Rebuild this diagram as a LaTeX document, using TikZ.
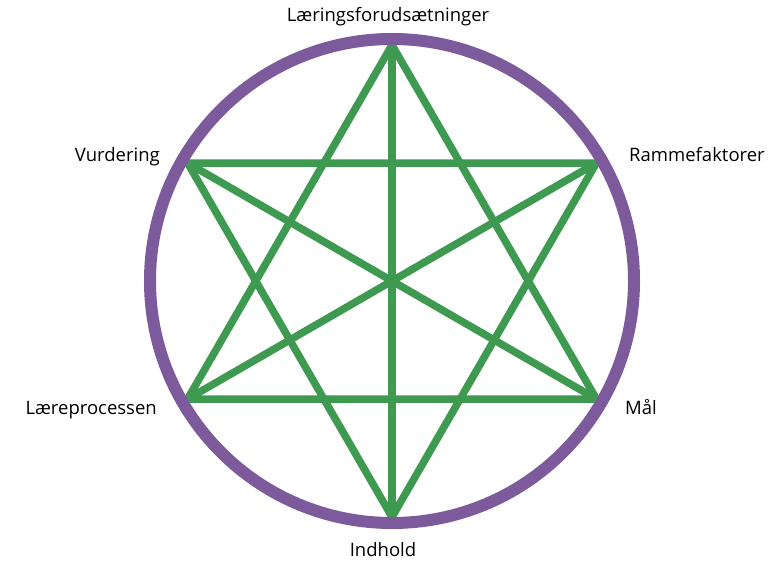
\documentclass[tikz,border=0pt]{standalone}
\usepackage{fontspec}
\setmainfont{Open Sans}
\usetikzlibrary{positioning,calc}

\definecolor{ringpurple}{HTML}{7D5A9B}
\definecolor{stargreen}{HTML}{3E9A50}

\begin{document}
\begin{tikzpicture}[
  x=1pt, y=1pt,
  ring/.style={draw=ringpurple, line width=12pt},
  starline/.style={draw=stargreen, line width=7.5pt, line join=miter},
  label/.style={font=\fontsize{18.5}{22}\selectfont, text=black, inner sep=0pt}
]
\useasboundingbox (0,0) rectangle (780,-562);

\coordinate (centre) at (392,-281);

% corners of the star
\coordinate (forud) at ($(centre)+(90:236)$);
\coordinate (ramme) at ($(centre)+(30:236)$);
\coordinate (maal)  at ($(centre)+(-30:236)$);
\coordinate (indh)  at ($(centre)+(-90:236)$);
\coordinate (laere) at ($(centre)+(-150:236)$);
\coordinate (vurd)  at ($(centre)+(150:236)$);

\draw[starline] (forud) -- (laere) -- (maal) -- cycle;
\draw[starline] (indh) -- (vurd) -- (ramme) -- cycle;
\draw[starline] (forud) -- (indh);
\draw[starline] (vurd) -- (maal);
\draw[starline] (ramme) -- (laere);

\draw[ring] (centre) circle[radius=242];

\node[label] (l-forud) at (388,-17) {Læringsforudsætninger};
\node[label, anchor=west] (l-ramme) at (629,-155) {Rammefaktorer};
\node[label, anchor=west] (l-maal)  at (625,-407) {Mål};
\node[label] (l-indh) at (383,-550) {Indhold};
\node[label, anchor=east] (l-laere) at (157,-410) {Læreprocessen};
\node[label, anchor=east] (l-vurd)  at (160,-157) {Vurdering};
\end{tikzpicture}
\end{document}
